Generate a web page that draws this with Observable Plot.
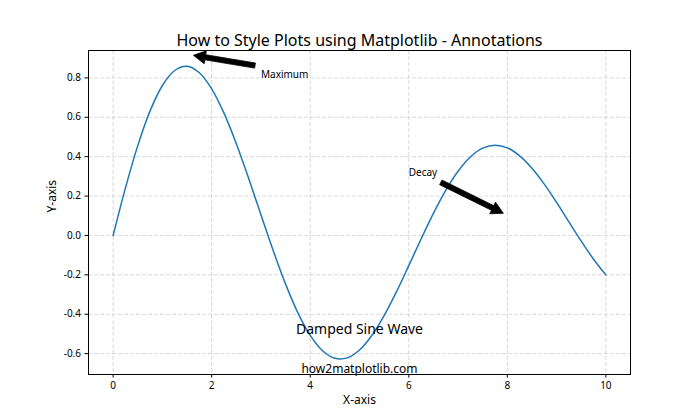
<!DOCTYPE html>
<html>
<head>
<meta charset="utf-8">
<script src="https://cdn.jsdelivr.net/npm/d3@7"></script>
<script src="https://cdn.jsdelivr.net/npm/@observablehq/plot@0.6"></script>
<style>
  html, body { margin: 0; padding: 0; background: #fff; }
</style>
</head>
<body>
<div id="chart"></div>
<script>
// Damped sine wave samples
const xs = [0, 0.25, 0.5, 0.75, 1.0, 1.25, 1.5, 1.75, 2.0, 2.25, 2.5, 2.75, 3.0, 3.25, 3.5, 3.75, 4.0, 4.25, 4.5, 4.75, 5.0, 5.25, 5.5, 5.75, 6.0, 6.25, 6.5, 6.75, 7.0, 7.25, 7.5, 7.75, 8.0, 8.25, 8.5, 8.75, 9.0, 9.25, 9.5, 9.75, 10.0];
const ys = [0, 0.24129, 0.45605, 0.63239, 0.76140, 0.83748, 0.85855, 0.82601, 0.74447, 0.62130, 0.46609, 0.28990, 0.10455, -0.07818, -0.24719, -0.39283, -0.50730, -0.58512, -0.62330, -0.62145, -0.58161, -0.50811, -0.40706, -0.28601, -0.15335, -0.01776, 0.11230, 0.22914, 0.32626, 0.39863, 0.44308, 0.45824, 0.44455, 0.40415, 0.34128, 0.26042, 0.16756, 0.06913, -0.02906, -0.12052, -0.20013];

const xTicks = [0, 2, 4, 6, 8, 10];
const yTicks = [-0.6, -0.4, -0.2, 0.0, 0.2, 0.4, 0.6, 0.8];

// Annotations
const annLabels = ["Maximum", "Decay"];
const annTextX = [3, 6];
const annTextY = [0.8, 0.3];
const arrowFromX = [2.89, 6.66];
const arrowFromY = [0.86, 0.267];
const arrowToX = [1.64, 7.93];
const arrowToY = [0.912, 0.110];

const notes = ["Damped Sine Wave", "how2matplotlib.com"];
const noteX = [5, 5];
const noteY = [-0.5, -0.7];
const noteSize = [14, 12];

const titleText = "How to Style Plots using Matplotlib - Annotations";
const xLabel = "X-axis";
const yLabel = "Y-axis";

const curve = xs.map((x, i) => ({x, y: ys[i]}));
const anns = annLabels.map((t, i) => ({t, x: annTextX[i], y: annTextY[i]}));
const arrows = arrowFromX.map((x1, i) => ({x1, y1: arrowFromY[i], x2: arrowToX[i], y2: arrowToY[i]}));
const noteData = notes.map((t, i) => ({t, x: noteX[i], y: noteY[i], s: noteSize[i]}));

function filledArrows(index, scales, values, dimensions, context) {
  const sx = typeof scales.x === "function" ? scales.x : (v) => scales.scales.x.apply(v);
  const sy = typeof scales.y === "function" ? scales.y : (v) => scales.scales.y.apply(v);
  const g = d3.create("svg:g");
  const w = 5.2, hw = 13, hl = 12;
  for (const a of arrows) {
    const tx = sx(a.x1), ty = sy(a.y1), px = sx(a.x2), py = sy(a.y2);
    const dx = px - tx, dy = py - ty, L = Math.hypot(dx, dy);
    const ux = dx / L, uy = dy / L, nx = -uy, ny = ux;
    const bx = px - ux * hl, by = py - uy * hl;
    const pts = [
      [tx + nx * w / 2, ty + ny * w / 2],
      [bx + nx * w / 2, by + ny * w / 2],
      [bx + nx * hw / 2, by + ny * hw / 2],
      [px, py],
      [bx - nx * hw / 2, by - ny * hw / 2],
      [bx - nx * w / 2, by - ny * w / 2],
      [tx - nx * w / 2, ty - ny * w / 2]
    ];
    g.append("polygon").attr("points", pts.map(p => p.join(",")).join(" ")).attr("fill", "black").attr("stroke", "black").attr("stroke-width", 0.8).attr("stroke-linejoin", "miter");
  }
  return g.node();
}

const fmt = d => (Math.abs(d) < 1e-9 ? "0.0" : (d < 0 ? "-" + Math.abs(d).toFixed(1) : d.toFixed(1)));

const chart = Plot.plot({
  width: 700,
  height: 420,
  marginLeft: 88,
  marginRight: 70,
  marginTop: 50,
  marginBottom: 46,
  style: {fontFamily: "'Noto Sans', sans-serif", background: "#fff", color: "#000"},
  x: {domain: [-0.5, 10.5]},
  y: {domain: [-0.706, 0.939]},
  marks: [
    Plot.gridX(xTicks, {stroke: "#b0b0b0", strokeOpacity: 0.6, strokeWidth: 0.8, strokeDasharray: "4,2"}),
    Plot.gridY(yTicks, {stroke: "#b0b0b0", strokeOpacity: 0.6, strokeWidth: 0.8, strokeDasharray: "4,2"}),
    Plot.axisX(xTicks, {tickSize: 3.5, tickPadding: 4, fontSize: 10, label: null, tickFormat: d => String(d)}),
    Plot.axisY(yTicks, {tickSize: 3.5, tickPadding: 4, fontSize: 10, label: null, tickFormat: fmt}),
    Plot.line(curve, {x: "x", y: "y", stroke: "#1f77b4", strokeWidth: 1.5, curve: "catmull-rom"}),
    Plot.text(anns, {x: "x", y: "y", text: "t", textAnchor: "start", lineAnchor: "bottom", fontSize: 10, fill: "#000"}),
    Plot.text(noteData, {x: "x", y: "y", text: "t", textAnchor: "middle", lineAnchor: "bottom", fontSize: "s", fill: "#000"}),
    filledArrows,
    Plot.frame({stroke: "#000", strokeWidth: 1}),
    Plot.text([titleText], {frameAnchor: "top", dy: -10, lineAnchor: "middle", fontSize: 16, fill: "#000"}),
    Plot.text([xLabel], {frameAnchor: "bottom", dy: 26, lineAnchor: "middle", fontSize: 12, fill: "#000"}),
    Plot.text([yLabel], {frameAnchor: "left", dx: -36, rotate: -90, lineAnchor: "middle", fontSize: 12, fill: "#000"})
  ]
});
document.getElementById("chart").appendChild(chart);
</script>
</body>
</html>
